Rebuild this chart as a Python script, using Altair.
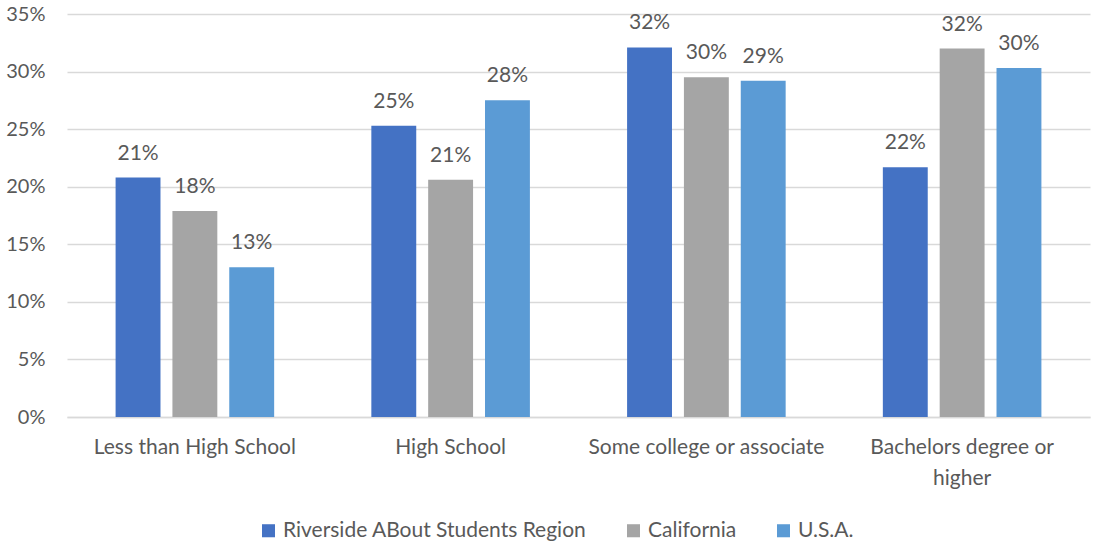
import altair as alt
import pandas as pd

categories = ["Less than High School", "High School", "Some college or associate", "Bachelors degree or higher"]
series = ["Riverside ABout Students Region", "California", "U.S.A."]
riverside = [20.8, 25.3, 32.1, 21.7]
california = [17.9, 20.6, 29.5, 32.0]
usa = [13.0, 27.5, 29.2, 30.3]
colors = ["#4472C4", "#A5A5A5", "#5B9BD5"]

rows = []
for s, vals in zip(series, [riverside, california, usa]):
    for c, v in zip(categories, vals):
        rows.append({"cat": c, "series": s, "value": v / 100.0})
df = pd.DataFrame(rows)

FONT = "Lato"
TXT = "#595959"
FS = 21

base = alt.Chart(df).encode(
    x=alt.X("cat:N", sort=categories, title=None,
            scale=alt.Scale(paddingInner=0.38, paddingOuter=0.19),
            axis=alt.Axis(labelAngle=0, labelFont=FONT, labelFontSize=FS, labelColor=TXT, labelLimit=0,
                          domainColor="#d9d9d9", domainWidth=1.5, ticks=False, labelPadding=19,
                          labelExpr="datum.label == 'Bachelors degree or higher' ? ['Bachelors degree or', 'higher'] : datum.label",
                          labelLineHeight=31)),
    xOffset=alt.XOffset("series:N", sort=series, scale=alt.Scale(paddingInner=0.21, paddingOuter=0)),
    y=alt.Y("value:Q", title=None,
            scale=alt.Scale(domain=[0, 0.35], nice=False),
            axis=alt.Axis(format=".0%", values=[0, 0.05, 0.1, 0.15, 0.2, 0.25, 0.3, 0.35],
                          labelFont=FONT, labelFontSize=20, labelColor=TXT,
                          gridColor="#d9d9d9", gridWidth=1.5, domain=False, ticks=False,
                          labelPadding=22)),
)

bars = base.mark_bar().encode(
    color=alt.Color("series:N", sort=series, scale=alt.Scale(domain=series, range=colors),
                    legend=alt.Legend(title=None, orient="none", direction="horizontal",
                                      legendX=191, legendY=506, symbolType="square", symbolSize=170,
                                      labelFont=FONT, labelFontSize=FS, labelColor=TXT, labelLimit=0,
                                      columnPadding=36, symbolStrokeWidth=0))
)

labels = base.mark_text(baseline="bottom", dy=-14, font=FONT, fontSize=FS, color=TXT).encode(
    text=alt.Text("value:Q", format=".0%")
)

chart = (bars + labels).properties(
    width=1023, height=403,
    autosize=alt.AutoSizeParams(type="none"),
    padding={"left": 67, "top": 14, "right": 7, "bottom": 127},
).configure_view(stroke=None)

chart.save("out.html", embed_options={"renderer": "svg", "actions": False})
